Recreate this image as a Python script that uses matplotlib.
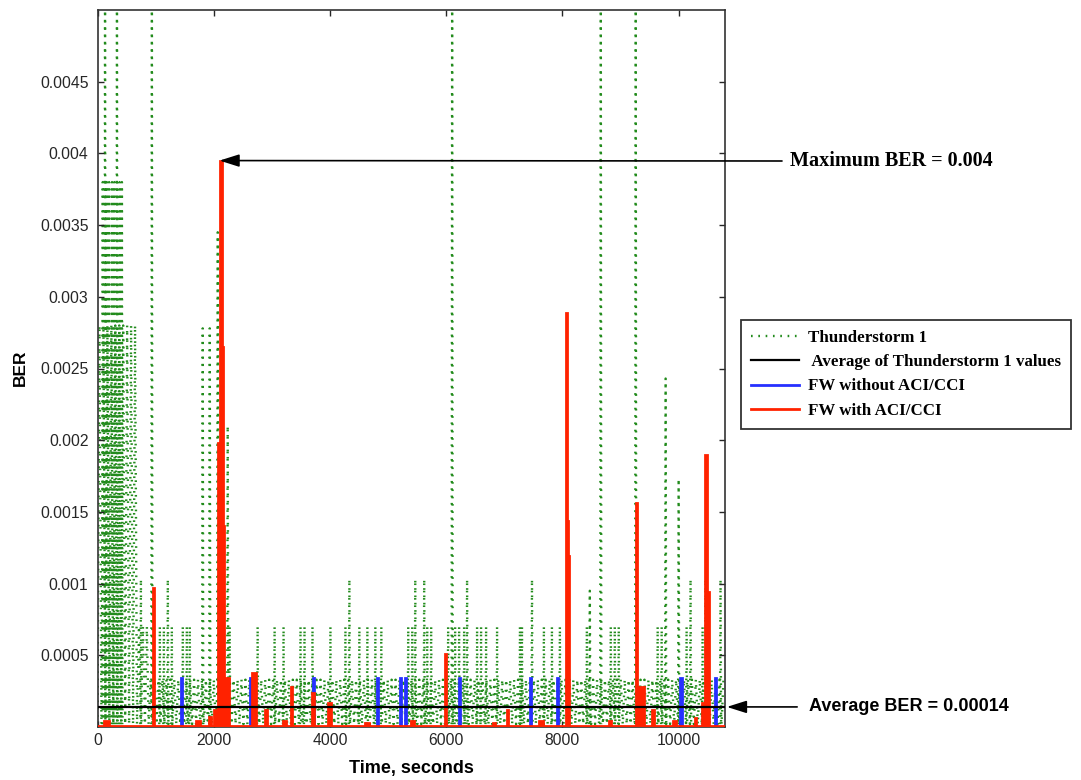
import numpy as np
import matplotlib
matplotlib.use("Agg")
import matplotlib.pyplot as plt

# ---------------- data ----------------
time_ticks = [0, 2000, 4000, 6000, 8000, 10000]
ber_ticks = [0.0005, 0.001, 0.0015, 0.002, 0.0025, 0.003, 0.0035, 0.004, 0.0045]
ber_tick_labels = ["0.0005", "0.001", "0.0015", "0.002", "0.0025",
                   "0.003", "0.0035", "0.004", "0.0045"]

# Thunderstorm 1 : dense oscillating background (segment start, end, top level)
storm_band_start = [0, 680, 880]
storm_band_end = [680, 880, 10800]
storm_band_top = [0.0028, 0.0007, 0.00033]
storm_floor = 0.00002
storm_sample = 34          # seconds between recorded samples

# Thunderstorm 1 : isolated spikes (time in s, BER peak)
storm_spike_t = [90, 130, 160, 200, 250, 290, 335, 380, 420, 747, 936,
                 1073, 1142, 1210, 1279, 1468, 1537, 1588, 1811, 1932, 2069, 2241,
                 2275, 2756, 3048, 3202, 3494, 3563, 3700, 4009, 4267, 4335, 4507,
                 4645, 4782, 4885, 5348, 5417, 5469, 5623, 5675, 5743, 6035, 6104,
                 6155, 6224, 6310, 6361, 6533, 6602, 6688, 6877, 7271, 7306, 7478,
                 7683, 7821, 7958, 8422, 8473, 8662, 8834, 8903, 8971, 9263, 9641,
                 9710, 9778, 10002, 10139, 10207, 10414, 10465, 10723]
storm_spike_v = [0.0038, 0.0052, 0.0038, 0.0038, 0.0038, 0.0038, 0.0052, 0.0038, 0.0038,
                 0.00103, 0.0052,
                 0.0007, 0.0007, 0.00103, 0.0007, 0.0007, 0.0007, 0.0007, 0.00278,
                 0.00278, 0.00345, 0.0021, 0.0007, 0.0007, 0.0007, 0.0007, 0.0007,
                 0.0007, 0.0007, 0.0007, 0.0007, 0.00103, 0.0007, 0.0007, 0.0007,
                 0.0007, 0.0007, 0.0007, 0.00103, 0.00103, 0.0007, 0.0007, 0.0007,
                 0.0052, 0.0007, 0.0007, 0.0007, 0.00103, 0.0007, 0.0007, 0.0007,
                 0.0007, 0.0007, 0.0007, 0.00103, 0.0007, 0.0007, 0.0007, 0.0007,
                 0.00095, 0.0052, 0.0007, 0.0007, 0.0007, 0.0052, 0.0007, 0.0007,
                 0.00243, 0.00173, 0.0007, 0.00103, 0.0007, 0.00103, 0.00103]

# Average of Thunderstorm 1 values
storm_average = 0.00014

# FW without ACI/CCI (piecewise constant: value holds from t[i] to t[i+1])
fw_plain_t = [0, 1443, 1459, 2627, 2643, 3709, 3725, 4807, 4823, 5211, 5227, 5288,
              5304, 6215, 6231, 7451, 7467, 7915, 7931, 10025, 10060, 10627, 10643, 10800]
fw_plain_v = [0, 0.00034, 0, 0.00034, 0, 0.00034, 0, 0.00034, 0, 0.00034, 0, 0.00034,
              0, 0.00034, 0, 0.00034, 0, 0.00034, 0, 0.00034, 0, 0.00034, 0, 0]

# FW with ACI/CCI (piecewise constant)
fw_aci_t = [0, 120, 200, 950, 975, 1700, 1760, 1915, 1945, 2005, 2075, 2100, 2135,
            2160, 2180, 2255, 2660, 2720, 2890, 2920, 3200, 3250, 3325, 3355, 3700,
            3725, 3975, 4015, 4600, 4680, 5400, 5440, 5980, 6005, 6800, 6850, 7045,
            7070, 7600, 7660, 8065, 8085, 8105, 8120, 8800, 8840, 9265, 9290, 9400,
            9535, 9575, 9900, 9950, 10285, 10300, 10410, 10460, 10490, 10520, 10800]
fw_aci_v = [0.00001, 0.00004, 0.00001, 0.00097, 0.00001, 0.00004, 0.00001, 0.00007,
            0.00001, 0.00012, 0.00198, 0.00395, 0.00265, 0.0014, 0.00034, 0.00001,
            0.00038, 0.00001, 0.00012, 0.00001, 0.00004, 0.00001, 0.00028, 0.00001,
            0.00024, 0.00001, 0.00017, 0.00001, 0.00003, 0.00001, 0.00004, 0.00001,
            0.00051, 0.00001, 0.00003, 0.00001, 0.00012, 0.00001, 0.00004, 0.00001,
            0.00289, 0.00144, 0.00119, 0.00001, 0.00004, 0.00001, 0.00156, 0.00028,
            0.00001, 0.00012, 0.00001, 0.00004, 0.00001, 0.00006, 0.00001, 0.00017,
            0.0019, 0.00094, 0.00001, 0.00001]

# ---------------- figure ----------------
W, H = 1081, 780
fig = plt.figure(figsize=(W / 100, H / 100), dpi=100)
ax = fig.add_axes([97.5 / W, 1 - 727 / H, (725 - 97.5) / W, (727 - 10) / H])

GREEN = "#228b1c"
RED = "#ff2200"
BLUE = "#2630ff"
storm_style = dict(color=GREEN, lw=1.7, linestyle=(0, (0.7, 2.4)))

# background oscillation of the storm series
band_t, band_v = [], []
for s, e, top in zip(storm_band_start, storm_band_end, storm_band_top):
    for k, t in enumerate(np.arange(s, e, storm_sample)):
        band_t.append(t)
        band_v.append(top if k % 2 else storm_floor)
storm_line, = ax.plot(band_t, band_v, label="Thunderstorm 1", zorder=1, **storm_style)

# spikes of the storm series
sp_t, sp_v = [], []
for t, v in zip(storm_spike_t, storm_spike_v):
    sp_t += [t - 10, t, t + 10, np.nan]
    sp_v += [storm_floor, v, storm_floor, np.nan]
ax.plot(sp_t, sp_v, zorder=1, **storm_style)

ax.fill_between(fw_plain_t, fw_plain_v, step="post", color=BLUE, lw=0, zorder=2)
blue_line, = ax.step(fw_plain_t, fw_plain_v, where="post", color=BLUE, lw=2.0,
                     solid_joinstyle="miter", label="FW without ACI/CCI", zorder=2)
ax.fill_between(fw_aci_t, fw_aci_v, step="post", color=RED, lw=0, zorder=3)
red_line, = ax.step(fw_aci_t, fw_aci_v, where="post", color=RED, lw=2.0,
                    solid_joinstyle="miter", label="FW with ACI/CCI", zorder=3)
avg_line = ax.axhline(storm_average, color="black", lw=1.6, zorder=4,
                      label=" Average of Thunderstorm 1 values")

ax.set_xlim(0, 10800)
ax.set_ylim(0, 0.005)
ax.set_xticks(time_ticks)
ax.set_xticklabels([str(t) for t in time_ticks])
ax.set_yticks(ber_ticks)
ax.set_yticklabels(ber_tick_labels)

sans = ["Liberation Sans", "DejaVu Sans"]
serif = ["Liberation Serif", "DejaVu Serif"]
ax.tick_params(direction="in", length=4.5, width=1.0, top=True, right=True,
               labelsize=11.3, colors="#262626")
ax.tick_params(axis="x", pad=4)
ax.tick_params(axis="y", pad=6.5)
for lab in ax.get_xticklabels() + ax.get_yticklabels():
    lab.set_family(sans)
for sp in ax.spines.values():
    sp.set_color("#333333")
    sp.set_linewidth(1.2)

ax.set_xlabel("Time, seconds", family=sans, fontweight="bold", fontsize=13, labelpad=9)
fig.text(20 / W, 1 - 368 / H, "BER", family=sans, fontweight="bold", fontsize=12.5,
         rotation=90, ha="center", va="center")

# legend
leg = fig.legend(handles=[storm_line, avg_line, blue_line, red_line],
                 loc="upper left", bbox_to_anchor=(741 / W, 1 - 320 / H),
                 bbox_transform=fig.transFigure, borderaxespad=0,
                 prop=dict(family=serif, weight="bold", size=12.2),
                 handlelength=2.85, handletextpad=0.5, labelspacing=0.48,
                 borderpad=0.6, fancybox=False, framealpha=1)
leg.get_frame().set_edgecolor("#333333")
leg.get_frame().set_linewidth(1.3)

# annotations
imax = int(np.argmax(fw_aci_v))
ax.annotate("", xy=(fw_aci_t[imax], fw_aci_v[imax]), xycoords="data",
            xytext=(782 / W, 1 - 161 / H), textcoords="figure fraction",
            arrowprops=dict(arrowstyle="-|>,head_length=1.2,head_width=0.38",
                            color="black", lw=1.2, shrinkA=0, shrinkB=0))
fig.text(790 / W, 1 - 161 / H, "Maximum BER = 0.004", family=serif, fontweight="bold",
         fontsize=14.5, ha="left", va="center")

ax.annotate("", xy=(1.003, storm_average), xycoords=("axes fraction", "data"),
            xytext=(1.115, storm_average), textcoords=("axes fraction", "data"),
            arrowprops=dict(arrowstyle="-|>,head_length=1.2,head_width=0.38",
                            color="black", lw=1.2, shrinkA=0, shrinkB=0))
ax.text(1.1335, storm_average, "Average BER = 0.00014", transform=ax.get_yaxis_transform(),
        family=sans, fontweight="bold", fontsize=13, ha="left", va="center", clip_on=False)

fig.savefig("out.png", dpi=100)
